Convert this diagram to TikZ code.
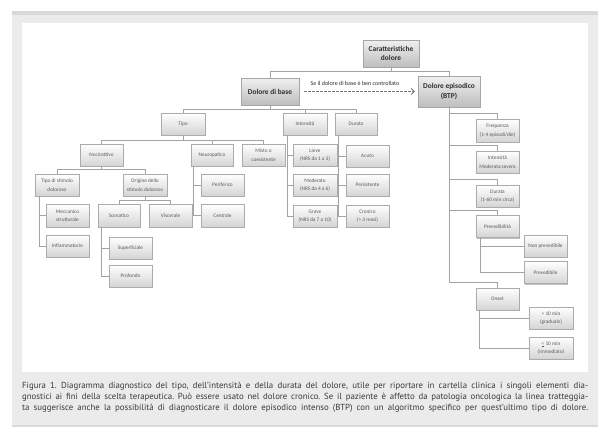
\documentclass[tikz,border=0pt]{standalone}
\usepackage{fontspec}
\setmainfont{PT Sans}
\newfontfamily\carlito{Carlito}
\usetikzlibrary{shadows,arrows.meta}
\definecolor{frameg}{HTML}{EBEBEB}
\definecolor{frameband}{HTML}{D9D9D9}
\definecolor{boxline}{HTML}{ABABAB}
\definecolor{boxbot}{HTML}{D4D4D4}
\definecolor{bigtop}{HTML}{F0F0F0}
\definecolor{bigbot}{HTML}{BDBDBD}
\definecolor{txtg}{HTML}{5A5A5A}
\definecolor{txtd}{HTML}{2E2E2E}
\definecolor{lineg}{HTML}{A3A3A3}
\definecolor{arrg}{HTML}{7A7A7A}
\definecolor{capg}{HTML}{3A3A3A}
\tikzset{
  sbox/.style={draw=boxline, line width=0.5pt, top color=white, bottom color=boxbot,
    drop shadow={shadow xshift=1pt, shadow yshift=-1pt, opacity=0.4, fill=black!60},
    font=\carlito\fontsize{5.3}{8.6}\selectfont, text=txtg, align=center, inner sep=0pt,
    minimum width=43pt, minimum height=22pt},
  bbox/.style={sbox, top color=bigtop, bottom color=bigbot, draw=gray!70,
    font=\carlito\bfseries\fontsize{7.4}{9.6}\selectfont, text=txtd},
  con/.style={draw=lineg, line width=0.8pt},
}
\begin{document}
\begin{tikzpicture}[x=1pt,y=-1pt]
\useasboundingbox (0,0) rectangle (611,439);
% frame
\fill[frameg] (12,11) rectangle (598,427);
\fill[frameband] (12,11) rectangle (598,14.5);
\fill[frameband] (12,424.5) rectangle (598,427);
\fill[white] (22,23) rectangle (588,372);

% top nodes
\node[bbox, minimum width=56pt, minimum height=27pt] (car) at (391,53.5) {Caratteristiche\\dolore};
\node[bbox, minimum width=58pt, minimum height=27pt] (base) at (270,91.5) {Dolore di base};
\node[bbox, minimum width=62pt, minimum height=31pt] (btp) at (449,91.5) {Dolore episodico\\(BTP)};

% level 2
\node[sbox, minimum width=44pt] (tipo) at (183,124) {Tipo};
\node[sbox, minimum width=44pt] (intens) at (305,124) {Intensità};
\node[sbox, minimum width=42pt] (durata) at (356,124) {Durata};

% Tipo children
\node[sbox] (noc) at (101.5,155) {Nocicettivo};
\node[sbox, minimum width=42pt] (neuro) at (212,155) {Neuropatico};
\node[sbox] (misto) at (263.5,155) {Misto o\\coesistente};

\node[sbox, minimum width=44pt] (tsd) at (57,185) {Tipo di stimolo\\doloroso};
\node[sbox, minimum width=44pt] (orig) at (145,185) {Origine dello\\stimolo doloroso};
\node[sbox, minimum height=23pt] (mecc) at (67.5,215.5) {Meccanico\\strutturale};
\node[sbox] (infl) at (67.5,246) {Infiammatorio};
\node[sbox, minimum width=42pt, minimum height=23pt] (som) at (119,215.5) {Somatico};
\node[sbox, minimum height=23pt] (visc) at (170.5,215.5) {Viscerale};
\node[sbox] (sup) at (130.5,248) {Superficiale};
\node[sbox] (prof) at (130.5,276) {Profondo};
\node[sbox] (perif) at (222.5,185) {Periferico};
\node[sbox, minimum height=23pt] (centr) at (222.5,215.5) {Centrale};

% Intensita / Durata children
\node[sbox, minimum width=44pt] (lieve) at (315,155) {Lieve\\(NRS da 1 a 3)};
\node[sbox, minimum width=44pt] (moder) at (315,185) {Moderato\\(NRS da 4 a 6)};
\node[sbox, minimum width=44pt] (grave) at (315,216) {Grave\\(NRS da 7 a 10)};
\node[sbox] (acuto) at (367.5,156) {Acuto};
\node[sbox] (pers) at (367.5,185) {Persistente};
\node[sbox] (cron) at (367.5,216) {Cronico\\(> 3 mesi)};

% BTP children
\node[sbox, minimum height=23pt] (freq) at (497.5,130.5) {Frequenza\\(1-4 episodi/die)};
\node[sbox] (intbtp) at (497.5,162) {Intensità\\Moderata severa};
\node[sbox] (durbtp) at (497.5,196) {Durata\\(1-60 min circa)};
\node[sbox] (prev) at (497.5,226.5) {Prevedibilità};
\node[sbox] (nonprev) at (545.5,246) {Non prevedibile};
\node[sbox] (prevbl) at (545.5,272.5) {Prevedibile};
\node[sbox] (onset) at (497.5,299) {Onset};
\node[sbox, minimum width=44pt] (gt) at (551,318) {> 10 min\\(graduale)};
\node[sbox, minimum width=44pt] (le) at (551,348) {\underline{<} 10 min\\(immediato)};

% connectors: bars
\draw[con] (car.south) -- ++(0,4) -| (base.north);
\draw[con] (car.south) -- ++(0,4) -| (btp.north);
\foreach \c in {tipo,intens,durata} \draw[con] (base.south) -- ++(0,4) -| (\c.north);
\foreach \c in {noc,neuro,misto} \draw[con] (tipo.south) -- ++(0,5) -| (\c.north);
\foreach \c in {tsd,orig} \draw[con] (noc.south) -- ++(0,3.5) -| (\c.north);
\foreach \c in {som,visc} \draw[con] (orig.south) -- ++(0,4.5) -| (\c.north);
% connectors: side trunks
\foreach \c in {mecc,infl} \draw[con] ([xshift=5pt]tsd.south west) |- (\c.west);
\foreach \c in {sup,prof} \draw[con] ([xshift=4pt]som.south west) |- (\c.west);
\foreach \c in {perif,centr} \draw[con] ([xshift=3pt]neuro.south west) |- (\c.west);
\foreach \c in {lieve,moder,grave} \draw[con] ([xshift=5pt]intens.south west) |- (\c.west);
\foreach \c in {acuto,pers,cron} \draw[con] ([xshift=4pt]durata.south west) |- (\c.west);
\foreach \c in {nonprev,prevbl} \draw[con] ([xshift=5pt]prev.south west) |- (\c.west);
\foreach \c in {gt,le} \draw[con] ([xshift=4pt]onset.south west) |- (\c.west);
\foreach \c in {freq,intbtp,durbtp,prev,onset} \draw[con] (btp.south) |- ([yshift=5pt]\c.north) -- (\c.north);

% dashed arrow
\draw[dashed, arrg, line width=0.8pt, dash pattern=on 2.5pt off 1.5pt,
  -{Straight Barb[length=3pt,width=6pt,line width=0.8pt]}] ([xshift=5pt]base.east) -- ([xshift=-3pt]btp.west);
\node[font=\carlito\fontsize{6}{7}\selectfont, text=txtd, inner sep=0pt] (lbl) at (355,83) {Se il dolore di base è ben controllato};

% caption
\node[anchor=north west, inner sep=0pt, text width=566pt, align=justify, text=capg,
  font=\fontsize{8.8}{11.4}\selectfont] (cap) at (22,381.5) {\frenchspacing\parfillskip=0pt
Figura 1. Diagramma diagnostico del tipo, dell’intensità e della durata del dolore, utile per riportare in cartella clinica i singoli elementi dia-\linebreak
gnostici ai fini della scelta terapeutica. Può essere usato nel dolore cronico. Se il paziente è affetto da patologia oncologica la linea tratteggia-\linebreak
ta suggerisce anche la possibilità di diagnosticare il dolore episodico intenso (BTP) con un algoritmo specifico per quest’ultimo tipo di dolore.\par};
\end{tikzpicture}
\end{document}
